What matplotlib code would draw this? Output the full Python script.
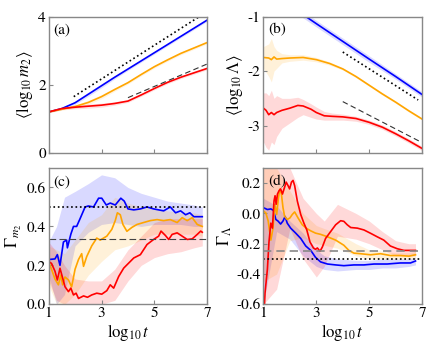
import matplotlib
matplotlib.use("Agg")
import matplotlib.pyplot as plt

plt.rcParams['font.family'] = ['STIXGeneral', 'Liberation Serif', 'DejaVu Serif']
plt.rcParams['mathtext.fontset'] = 'stix'
plt.rcParams['axes.unicode_minus'] = False

BLUE, ORANGE, RED = '#0000ff', '#ffa500', '#ff0000'

# ---- (a) <log10 m2> ----
xa = [1, 1.5, 2, 2.5, 3, 3.5, 4, 4.5, 5, 5.5, 6, 6.5, 7]
a_blue = [1.2, 1.3, 1.47, 1.72, 1.97, 2.22, 2.46, 2.7, 2.94, 3.18, 3.42, 3.66, 3.9]
a_orange = [1.2, 1.28, 1.36, 1.48, 1.65, 1.86, 2.06, 2.3, 2.53, 2.73, 2.92, 3.08, 3.24]
a_red = [1.2, 1.3, 1.34, 1.37, 1.4, 1.45, 1.52, 1.7, 1.89, 2.07, 2.22, 2.35, 2.48]
a_err = [0.02, 0.03, 0.05, 0.06, 0.06, 0.05, 0.04, 0.04, 0.04, 0.04, 0.04, 0.04, 0.04]
a_dot_x, a_dot_y = [1.95, 6.7], [1.65, 4.0]
a_dash_x, a_dash_y = [4.0, 7.0], [1.62, 2.61]

# ---- (b) <log10 Lambda> ----
xb_blue = [2, 3, 4, 5, 6, 7]
b_blue = [-0.8, -1.13, -1.455, -1.78, -2.1, -2.43]
b_blue_err = [0.06, 0.06, 0.06, 0.06, 0.05, 0.05]
xb_orange = [1, 1.2, 1.3, 1.4, 1.5, 1.7, 2, 2.5, 3, 3.5, 4, 4.5, 5, 5.5, 6, 6.5, 7]
b_orange = [-1.75, -1.76, -1.79, -1.74, -1.78, -1.77, -1.76, -1.75, -1.79, -1.86,
            -1.96, -2.1, -2.26, -2.42, -2.57, -2.73, -2.88]
b_orange_lo = [-1.95, -2.1, -2.2, -2.0, -1.95, -1.85, -1.82, -1.8, -1.83, -1.89,
               -1.98, -2.12, -2.28, -2.44, -2.59, -2.75, -2.9]
b_orange_hi = [-1.55, -1.5, -1.4, -1.55, -1.62, -1.68, -1.7, -1.7, -1.75, -1.83,
               -1.94, -2.08, -2.24, -2.4, -2.55, -2.71, -2.86]
xb_red = [1, 1.1, 1.2, 1.3, 1.4, 1.5, 1.7, 2, 2.3, 2.5, 2.8, 3, 3.3, 3.6, 4, 4.5,
          5, 5.5, 6, 6.5, 7]
b_red = [-2.68, -2.72, -2.8, -2.76, -2.8, -2.76, -2.72, -2.68, -2.63, -2.64, -2.7,
         -2.76, -2.82, -2.83, -2.84, -2.87, -2.94, -3.03, -3.15, -3.28, -3.42]
b_red_lo = [-3.3, -3.4, -3.45, -3.3, -3.35, -3.2, -3.05, -2.95, -2.85, -2.8, -2.85,
            -2.88, -2.9, -2.9, -2.9, -2.92, -2.98, -3.07, -3.19, -3.32, -3.46]
b_red_hi = [-2.4, -2.4, -2.45, -2.35, -2.5, -2.45, -2.5, -2.5, -2.48, -2.52, -2.6,
            -2.66, -2.74, -2.77, -2.79, -2.83, -2.9, -2.99, -3.11, -3.24, -3.38]
b_dot_x, b_dot_y = [4.0, 6.85], [-1.65, -2.53]
b_dash_x, b_dash_y = [4.0, 6.95], [-2.56, -3.3]

# ---- (c) Gamma_m2 ----
xc_blue = [1, 1.24, 1.33, 1.43, 1.56, 1.68, 1.71, 1.84, 1.94, 2.06, 2.19, 2.38, 2.5,
           2.7, 2.89, 3.01, 3.18, 3.33, 3.52, 3.73, 3.86, 4.0, 4.22, 4.47, 4.72,
           4.97, 5.35, 5.6, 5.8, 5.99, 6.18, 6.34, 6.49, 6.81]
c_blue = [0.23, 0.233, 0.255, 0.2, 0.32, 0.33, 0.29, 0.36, 0.4, 0.4, 0.44, 0.5, 0.505,
          0.5, 0.545, 0.545, 0.51, 0.52, 0.51, 0.545, 0.53, 0.49, 0.485, 0.49, 0.5,
          0.49, 0.48, 0.5, 0.47, 0.48, 0.46, 0.47, 0.45, 0.45]
xc_orange = [1, 1.11, 1.24, 1.37, 1.46, 1.53, 1.62, 1.75, 1.87, 2.0, 2.13, 2.25, 2.32,
             2.44, 2.63, 2.82, 2.95, 3.2, 3.39, 3.52, 3.6, 3.71, 3.81, 3.96, 4.15,
             4.34, 4.59, 4.85, 5.1, 5.35, 5.6, 5.86, 6.05, 6.24, 6.43, 6.62, 6.81]
c_orange = [0.22, 0.18, 0.13, 0.1, 0.15, 0.1, 0.14, 0.125, 0.09, 0.18, 0.23, 0.26,
            0.195, 0.245, 0.3, 0.34, 0.33, 0.35, 0.385, 0.43, 0.47, 0.46, 0.41, 0.375,
            0.395, 0.41, 0.42, 0.43, 0.435, 0.43, 0.435, 0.42, 0.445, 0.43, 0.445,
            0.41, 0.4]
xc_red = [1, 1.11, 1.24, 1.33, 1.43, 1.53, 1.62, 1.75, 1.84, 1.94, 2.04, 2.13, 2.32,
          2.47, 2.63, 2.82, 3.01, 3.2, 3.33, 3.46, 3.65, 3.84, 4.03, 4.22, 4.47, 4.72,
          4.97, 5.16, 5.25, 5.42, 5.54, 5.67, 5.86, 6.05, 6.24, 6.43, 6.62, 6.75, 6.81]
c_red = [0.22, 0.21, 0.17, 0.125, 0.185, 0.135, 0.09, 0.065, 0.083, 0.048, 0.057, 0.03,
         0.043, 0.036, 0.048, 0.057, 0.052, 0.07, 0.1, 0.083, 0.143, 0.186, 0.212,
         0.238, 0.255, 0.307, 0.333, 0.35, 0.376, 0.353, 0.333, 0.359, 0.367, 0.35,
         0.333, 0.336, 0.359, 0.376, 0.37]
xc_band = [1, 1.3, 1.6, 2.0, 2.5, 3.0, 3.5, 4.0, 4.5, 5.0, 5.5, 6.0, 6.5, 6.81]
c_blue_lo = [0.15, 0.0, 0.05, 0.3, 0.37, 0.41, 0.42, 0.41, 0.4, 0.41, 0.41, 0.41, 0.4, 0.4]
c_blue_hi = [0.32, 0.4, 0.55, 0.58, 0.62, 0.665, 0.65, 0.6, 0.57, 0.55, 0.53, 0.52, 0.51, 0.5]
c_orange_lo = [0.1, 0.0, 0.0, 0.05, 0.15, 0.22, 0.28, 0.3, 0.33, 0.36, 0.36, 0.36, 0.36, 0.35]
c_orange_hi = [0.3, 0.28, 0.26, 0.33, 0.42, 0.46, 0.55, 0.52, 0.5, 0.49, 0.48, 0.47, 0.47, 0.46]
c_red_lo = [0.12, 0.02, 0.0, 0.0, 0.0, 0.0, 0.02, 0.12, 0.2, 0.24, 0.26, 0.27, 0.29, 0.3]
c_red_hi = [0.32, 0.27, 0.2, 0.13, 0.12, 0.12, 0.18, 0.28, 0.35, 0.42, 0.44, 0.44, 0.44, 0.44]

# ---- (d) Gamma_Lambda ----
xd_blue = [1, 1.15, 1.28, 1.38, 1.47, 1.55, 1.65, 1.74, 1.82, 1.9, 2.03, 2.22, 2.41,
           2.6, 2.79, 2.97, 3.16, 3.42, 3.73, 4.04, 4.42, 4.8, 5.18, 5.68, 6.18, 6.56,
           6.75]
d_blue = [0.038, 0.026, 0.03, 0.02, -0.04, -0.05, -0.07, -0.05, -0.02, -0.064, -0.097,
          -0.13, -0.165, -0.215, -0.244, -0.29, -0.32, -0.334, -0.34, -0.345, -0.34,
          -0.34, -0.334, -0.334, -0.327, -0.327, -0.314]
xd_orange = [1, 1.09, 1.18, 1.28, 1.36, 1.43, 1.5, 1.57, 1.62, 1.68, 1.74, 1.8, 1.9,
             2.0, 2.09, 2.18, 2.31, 2.47, 2.64, 2.79, 2.97, 3.16, 3.42, 3.73, 4.04,
             4.23, 4.42, 4.67, 5.05, 5.43, 5.8, 6.18, 6.5, 6.75]
d_orange = [0.015, 0.004, -0.05, -0.176, -0.1, 0.06, -0.007, 0.105, 0.16, 0.128, 0.038,
            -0.019, -0.04, -0.03, -0.007, 0.01, -0.03, -0.075, -0.1, -0.115, -0.13,
            -0.138, -0.154, -0.176, -0.21, -0.244, -0.262, -0.266, -0.273, -0.266,
            -0.278, -0.278, -0.282, -0.273]
xd_red = [1, 1.06, 1.15, 1.21, 1.28, 1.34, 1.4, 1.44, 1.48, 1.53, 1.59, 1.65, 1.72,
          1.78, 1.86, 1.93, 1.99, 2.06, 2.12, 2.18, 2.28, 2.41, 2.53, 2.64, 2.76, 2.89,
          2.97, 3.04, 3.14, 3.23, 3.35, 3.54, 3.73, 3.92, 4.04, 4.17, 4.3, 4.55, 4.8,
          5.05, 5.3, 5.55, 5.8, 6.06, 6.31, 6.56, 6.75]
d_red = [-0.75, -0.525, -0.368, -0.188, -0.064, -0.097, 0.083, 0.117, 0.06, 0.128, 0.15,
         0.162, 0.128, 0.162, 0.207, 0.184, 0.162, 0.207, 0.218, 0.184, 0.083, -0.007,
         -0.064, -0.109, -0.188, -0.228, -0.237, -0.228, -0.25, -0.221, -0.165, -0.12,
         -0.075, -0.048, -0.052, -0.075, -0.093, -0.097, -0.109, -0.131, -0.154,
         -0.176, -0.215, -0.233, -0.244, -0.244, -0.244]
xd_band = [1, 1.5, 2, 2.5, 3, 3.3, 3.8, 4.5, 5, 5.5, 6, 6.5, 6.75]
d_blue_lo = [-0.6, -0.12, -0.17, -0.28, -0.35, -0.37, -0.38, -0.37, -0.37, -0.36, -0.36, -0.35, -0.34]
d_blue_hi = [0.1, 0.05, -0.05, -0.13, -0.24, -0.28, -0.3, -0.31, -0.31, -0.3, -0.3, -0.3, -0.29]
d_orange_lo = [-0.45, -0.4, -0.18, -0.16, -0.2, -0.21, -0.23, -0.28, -0.3, -0.3, -0.3, -0.3, -0.3]
d_orange_hi = [0.3, 0.3, 0.15, 0.0, -0.08, -0.1, -0.13, -0.2, -0.24, -0.25, -0.26, -0.26, -0.25]
d_red_lo = [-0.6, -0.5, -0.1, -0.3, -0.42, -0.35, -0.15, -0.17, -0.2, -0.24, -0.28, -0.28, -0.28]
d_red_hi = [0.3, 0.3, 0.3, 0.1, 0.0, -0.05, 0.06, 0.0, -0.05, -0.12, -0.18, -0.2, -0.2]

GRAY = '#888888'

fig = plt.figure(figsize=(4.42, 3.53), dpi=100)
ax_a = fig.add_axes([0.110, 0.567, 0.359, 0.386])
ax_b = fig.add_axes([0.596, 0.567, 0.359, 0.386])
ax_c = fig.add_axes([0.110, 0.138, 0.359, 0.386])
ax_d = fig.add_axes([0.596, 0.138, 0.359, 0.386])

for ax in (ax_a, ax_b, ax_c, ax_d):
    for s in ax.spines.values():
        s.set_color(GRAY)
        s.set_linewidth(1.0)
    ax.tick_params(direction='in', color=GRAY, length=3, labelsize=11, pad=2)
    ax.set_xlim(1, 7)
    ax.set_xticks([1, 3, 5, 7])

lw = 1.2

# (a)
for y, c in ((a_blue, BLUE), (a_orange, ORANGE), (a_red, RED)):
    lo = [v - e for v, e in zip(y, a_err)]
    hi = [v + e for v, e in zip(y, a_err)]
    ax_a.fill_between(xa, lo, hi, color=c, alpha=0.12, lw=0)
    ax_a.plot(xa, y, color=c, lw=lw)
ax_a.plot(a_dot_x, a_dot_y, ':', color='black', lw=1.2)
ax_a.plot(a_dash_x, a_dash_y, '--', color='#333333', lw=0.8, dashes=(5, 3))
ax_a.set_ylim(0, 4)
ax_a.set_yticks([0, 2, 4])
ax_a.set_xticklabels([])
ax_a.set_ylabel(r'$\langle\log_{10}m_2\rangle$', fontsize=12, labelpad=2)
ax_a.text(0.03, 0.95, '(a)', transform=ax_a.transAxes, fontsize=11, va='top')

# (b)
ax_b.fill_between(xb_blue, [v - e for v, e in zip(b_blue, b_blue_err)],
                  [v + e for v, e in zip(b_blue, b_blue_err)], color=BLUE, alpha=0.15, lw=0)
ax_b.fill_between(xb_orange, b_orange_lo, b_orange_hi, color=ORANGE, alpha=0.15, lw=0)
ax_b.fill_between(xb_red, b_red_lo, b_red_hi, color=RED, alpha=0.15, lw=0)
ax_b.plot(xb_blue, b_blue, color=BLUE, lw=lw)
ax_b.plot(xb_orange, b_orange, color=ORANGE, lw=lw)
ax_b.plot(xb_red, b_red, color=RED, lw=lw)
ax_b.plot(b_dot_x, b_dot_y, ':', color='black', lw=1.2)
ax_b.plot(b_dash_x, b_dash_y, '--', color='#333333', lw=0.8, dashes=(5, 3))
ax_b.set_ylim(-3.5, -1)
ax_b.set_yticks([-1, -2, -3])
ax_b.set_xticklabels([])
ax_b.set_ylabel(r'$\langle\log_{10}\Lambda\rangle$', fontsize=12, labelpad=2)
ax_b.text(0.03, 0.95, '(b)', transform=ax_b.transAxes, fontsize=11, va='top')

# (c)
ax_c.fill_between(xc_band, c_blue_lo, c_blue_hi, color=BLUE, alpha=0.15, lw=0)
ax_c.fill_between(xc_band, c_orange_lo, c_orange_hi, color=ORANGE, alpha=0.15, lw=0)
ax_c.fill_between(xc_band, c_red_lo, c_red_hi, color=RED, alpha=0.15, lw=0)
ax_c.plot(xc_blue, c_blue, color=BLUE, lw=lw)
ax_c.plot(xc_orange, c_orange, color=ORANGE, lw=lw)
ax_c.plot(xc_red, c_red, color=RED, lw=lw)
ax_c.axhline(0.5, ls=':', color='black', lw=1.2)
ax_c.axhline(1 / 3, color='#444444', lw=0.8, dashes=(6, 3))
ax_c.set_ylim(0, 0.7)
ax_c.set_yticks([0, 0.2, 0.4, 0.6])
ax_c.set_yticklabels(['0.0', '0.2', '0.4', '0.6'])
ax_c.set_xlabel(r'$\log_{10}t$', fontsize=12, labelpad=1)
ax_c.set_ylabel(r'$\Gamma_{m_2}$', fontsize=12, labelpad=2)
ax_c.text(0.03, 0.95, '(c)', transform=ax_c.transAxes, fontsize=11, va='top')

# (d)
ax_d.fill_between(xd_band, d_blue_lo, d_blue_hi, color=BLUE, alpha=0.15, lw=0)
ax_d.fill_between(xd_band, d_orange_lo, d_orange_hi, color=ORANGE, alpha=0.15, lw=0)
ax_d.fill_between(xd_band, d_red_lo, d_red_hi, color=RED, alpha=0.15, lw=0)
ax_d.plot(xd_blue, d_blue, color=BLUE, lw=lw)
ax_d.plot(xd_orange, d_orange, color=ORANGE, lw=lw)
ax_d.plot(xd_red, d_red, color=RED, lw=lw)
ax_d.axhline(-0.25, color='#888888', lw=1.2, dashes=(5, 3))
ax_d.axhline(-0.3, ls=':', color='black', lw=1.2)
ax_d.set_ylim(-0.6, 0.3)
ax_d.set_yticks([-0.6, -0.4, -0.2, 0.0, 0.2])
ax_d.set_yticklabels(['-0.6', '-0.4', '-0.2', '0.0', '0.2'])
ax_d.set_xlabel(r'$\log_{10}t$', fontsize=12, labelpad=1)
ax_d.set_ylabel(r'$\Gamma_\Lambda$', fontsize=12, labelpad=2)
ax_d.text(0.03, 0.95, '(d)', transform=ax_d.transAxes, fontsize=11, va='top')

fig.savefig('out.png', dpi=100)
